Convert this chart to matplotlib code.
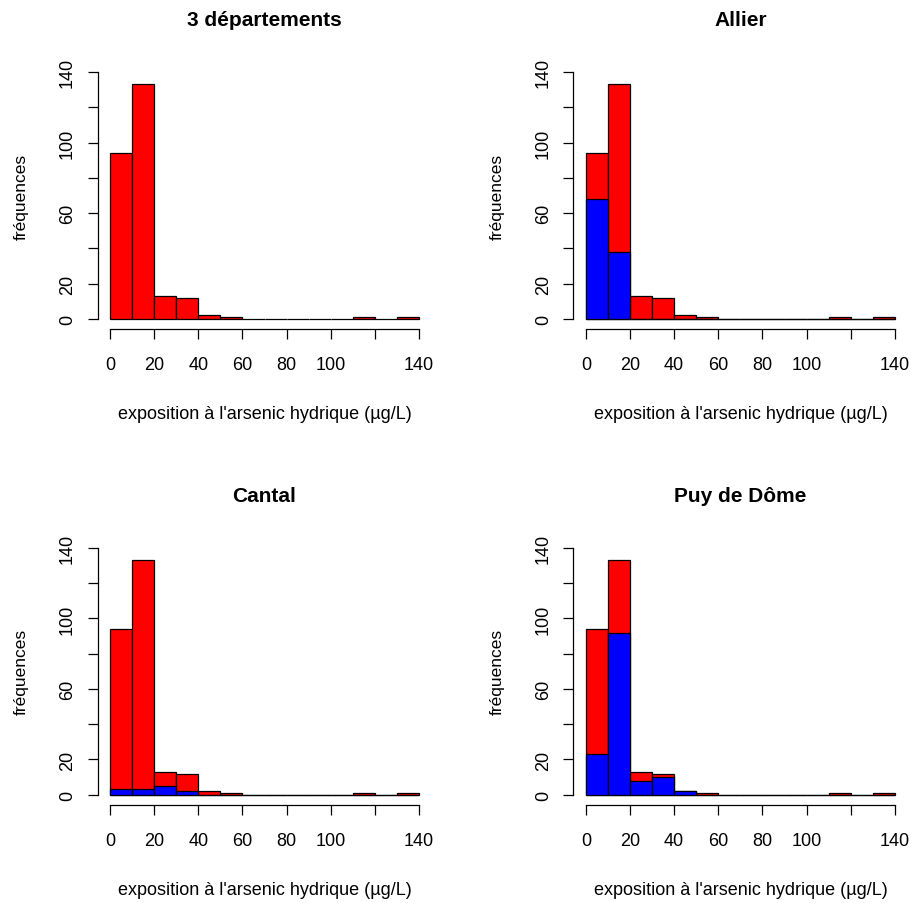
import numpy as np
import matplotlib
matplotlib.use("Agg")
import matplotlib.pyplot as plt

plt.rcParams['font.family'] = ['Liberation Sans', 'DejaVu Sans']

# histogram breaks (µg/L) and counts per bin
breaks = list(range(0, 150, 10))
total = [94, 133, 13, 12, 2, 1, 0, 0, 0, 0, 0, 1, 0, 1]
allier = [68, 38, 0, 0, 0, 0, 0, 0, 0, 0, 0, 0, 0, 0]
cantal = [3, 3, 5, 2, 0, 0, 0, 0, 0, 0, 0, 0, 0, 0]
puy = [23, 92, 8, 10, 2, 0, 0, 0, 0, 0, 0, 0, 0, 0]

titles = ["3 départements", "Allier", "Cantal", "Puy de Dôme"]
subsets = [None, allier, cantal, puy]
x_ticks = [0, 20, 40, 60, 80, 100, 120, 140]
x_labels = ["0", "20", "40", "60", "80", "100", "", "140"]
y_ticks = [0, 20, 40, 60, 80, 100, 120, 140]
y_labels = ["0", "20", "", "60", "", "100", "", "140"]

W, H = 912, 904
fig = plt.figure(figsize=(W / 100, H / 100), dpi=100)

# axes positions in pixels: left, top, right, bottom
boxes = [(97.6, 63.1, 431.4, 329.9), (573.5, 63.1, 907.3, 329.9),
         (97.6, 539.1, 431.4, 805.6), (573.5, 539.1, 907.3, 805.6)]

left_edges = np.array(breaks[:-1])
for title, sub, (l, t, r, b) in zip(titles, subsets, boxes):
    ax = fig.add_axes([l / W, 1 - b / H, (r - l) / W, (b - t) / H])
    ax.bar(left_edges, total, width=10, align='edge', color='#FF0000',
           edgecolor='black', linewidth=0.9)
    if sub is not None:
        ax.bar(left_edges, sub, width=10, align='edge', color='#0000FF',
               edgecolor='black', linewidth=0.9)
    ax.set_xlim(-5.6, 145.6)
    ax.set_ylim(-5.6, 145.6)
    for s in ['top', 'right']:
        ax.spines[s].set_visible(False)
    ax.spines['left'].set_bounds(0, 140)
    ax.spines['bottom'].set_bounds(0, 140)
    ax.spines['left'].set_linewidth(0.9)
    ax.spines['bottom'].set_linewidth(0.9)
    ax.set_xticks(x_ticks)
    ax.set_xticklabels(x_labels)
    ax.set_yticks(y_ticks)
    ax.set_yticklabels(y_labels, rotation=90, va='center')
    ax.tick_params(axis='both', direction='out', length=7.5, width=0.9,
                   labelsize=13)
    ax.tick_params(axis='x', pad=12)
    ax.tick_params(axis='y', pad=8)
    ax.set_xlabel("exposition à l'arsenic hydrique (µg/L)", fontsize=13,
                  labelpad=23)
    ax.set_ylabel("fréquences", fontsize=12.5, labelpad=22)
    ax.set_title(title, fontsize=15, fontweight='bold', pad=27)

fig.savefig("out.png", dpi=100)
